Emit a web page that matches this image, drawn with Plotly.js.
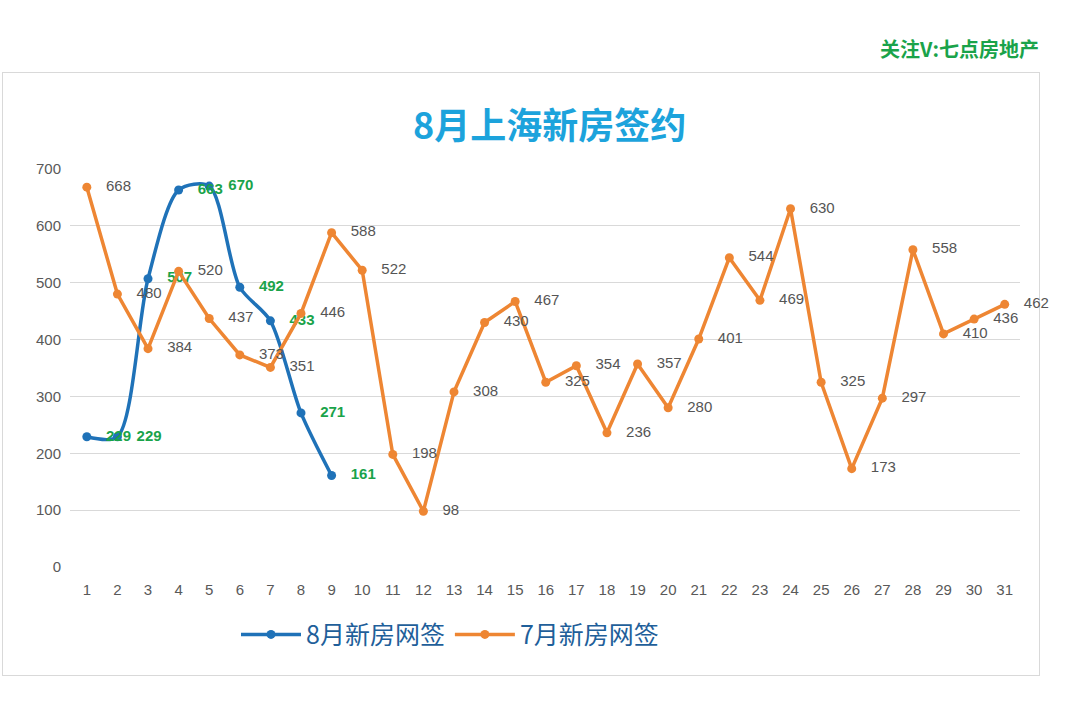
<!DOCTYPE html>
<html><head><meta charset="utf-8">
<script src="https://cdn.plot.ly/plotly-3.0.1.min.js"></script>
<style>body{margin:0;background:#fff}#frame{position:absolute;left:2px;top:72px;width:1036px;height:602px;border:1px solid #d9d9d9}#c{position:absolute;left:0;top:0;width:1080px;height:706px}</style>
</head><body><div id="frame"></div><div id="c"></div>
<script>
const days=[1,2,3,4,5,6,7,8,9,10,11,12,13,14,15,16,17,18,19,20,21,22,23,24,25,26,27,28,29,30,31];
const julyValues=[668,480,384,520,437,373,351,446,588,522,198,98,308,430,467,325,354,236,357,280,401,544,469,630,325,173,297,558,410,436,462];
const augDays=[1,2,3,4,5,6,7,8,9];
const augValues=[229,229,507,663,670,492,433,271,161];
const font="'Liberation Sans', 'Noto Sans CJK SC', sans-serif";
const cjk="'Noto Sans CJK SC', sans-serif";
const traces=[
{x:augDays,y:augValues,name:'8月新房网签',mode:'lines+markers+text',line:{color:'#1f72b8',width:3.5,shape:'spline',smoothing:0.8},marker:{size:9,color:'#1f72b8'},
 text:augValues.map(v=>'   '+v),textposition:'middle right',textfont:{color:'#1aa34a',size:15,family:font,weight:'bold'},cliponaxis:false},
{x:days,y:julyValues,name:'7月新房网签',mode:'lines+markers+text',line:{color:'#ee8633',width:3.5},marker:{size:9,color:'#ee8633'},
 text:julyValues.map(v=>'   '+v),textposition:'middle right',textfont:{color:'#555',size:15,family:font},cliponaxis:false}
];
const layout={width:1080,height:706,margin:{l:70,r:60,t:169,b:139},paper_bgcolor:'rgba(0,0,0,0)',plot_bgcolor:'rgba(0,0,0,0)',
 font:{family:font},showlegend:true,
 xaxis:{range:[0.45,31.5],tickvals:days,showgrid:false,zeroline:false,tickfont:{size:15,color:'#595959'},showline:false,ticklabelstandoff:12},
 yaxis:{range:[0,700],dtick:100,gridcolor:'#d9d9d9',zeroline:false,tickfont:{size:15,color:'#595959'},ticks:'',ticklabelstandoff:8},
 legend:{orientation:'h',x:0.4,xanchor:'center',y:-0.17,yanchor:'middle',font:{size:25,color:'#1f5f9a',family:cjk},itemwidth:60,tracegroupgap:40},
 annotations:[
  {text:'8月上海新房签约',xref:'paper',yref:'paper',x:0.505,y:1.116,showarrow:false,font:{size:36,color:'#1ca3dc',family:cjk,weight:'bold'},yanchor:'middle'},
  {text:'关注V:七点房地产',xref:'paper',yref:'paper',x:1.022,xanchor:'right',y:1.304,yanchor:'middle',showarrow:false,font:{size:20,color:'#1aa34a',family:cjk,weight:'bold'}}
 ]};
Plotly.newPlot('c',traces,layout,{displayModeBar:false});
</script></body></html>
